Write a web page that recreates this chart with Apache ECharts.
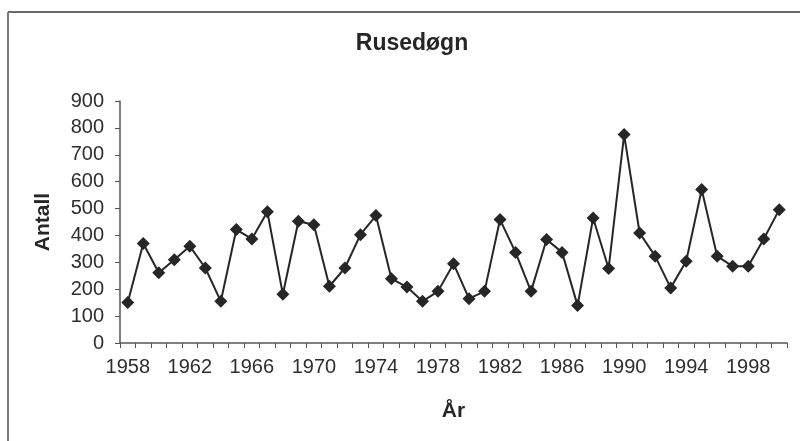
<!DOCTYPE html>
<html>
<head>
<meta charset="utf-8">
<script src="https://cdn.jsdelivr.net/npm/echarts@6/dist/echarts.min.js"></script>
<style>
html,body{margin:0;padding:0;background:#fff;}
#c{width:800px;height:441px;}
</style>
</head>
<body>
<div id="c"></div>
<script>
const years = ['1958','1959','1960','1961','1962','1963','1964','1965','1966','1967','1968','1969','1970','1971','1972','1973','1974','1975','1976','1977','1978','1979','1980','1981','1982','1983','1984','1985','1986','1987','1988','1989','1990','1991','1992','1993','1994','1995','1996','1997','1998','1999','2000'];
const rusedogn = [151,370,261,310,360,279,155,422,387,488,181,453,440,211,279,403,474,239,208,155,192,295,165,192,459,337,192,385,337,139,465,277,775,409,323,205,304,571,323,285,285,387,496];
const yTicks = {min:0, max:900, interval:100};
const titleText = 'Rusedøgn';
const xName = 'År';
const yName = 'Antall';

const chart = echarts.init(document.getElementById('c'));
chart.setOption({
  backgroundColor:'#fff',
  animation:false,
  graphic:[
    {type:'line', shape:{x1:8,y1:12,x2:800,y2:12}, style:{stroke:'#6a6a6a', lineWidth:2}},
    {type:'line', shape:{x1:8,y1:12,x2:8,y2:441}, style:{stroke:'#7a7a7a', lineWidth:2}}
  ],
  title:{
    text:titleText, left:407, top:27, textAlign:'center',
    textStyle:{fontFamily:'Liberation Sans, Arial', fontWeight:'bold', fontSize:23, color:'#262626'}
  },
  grid:{left:120, right:13, top:101, bottom:98},
  xAxis:{
    type:'category', data:years, boundaryGap:true,
    name:xName, nameLocation:'middle', nameGap:58,
    nameTextStyle:{fontFamily:'Liberation Sans, Arial', fontWeight:'bold', fontSize:21, color:'#262626'},
    axisLine:{lineStyle:{color:'#555', width:1.5}},
    axisTick:{show:true, interval:0, length:5, lineStyle:{color:'#555'}},
    axisLabel:{interval:3, margin:14, fontFamily:'Liberation Sans, Arial', fontSize:20, color:'#2e2e2e'},
    splitLine:{show:false}
  },
  yAxis:{
    type:'value', min:yTicks.min, max:yTicks.max, interval:yTicks.interval,
    name:yName, nameLocation:'middle', nameGap:66, nameRotate:90,
    nameTextStyle:{fontFamily:'Liberation Sans, Arial', fontWeight:'bold', fontSize:21, color:'#262626'},
    axisLine:{show:true, lineStyle:{color:'#555', width:1.5}},
    axisTick:{show:true, length:5, lineStyle:{color:'#555'}},
    axisLabel:{margin:16, fontFamily:'Liberation Sans, Arial', fontSize:20, color:'#2e2e2e'},
    splitLine:{show:false}
  },
  series:[{
    type:'line', data:rusedogn,
    symbol:'diamond', symbolSize:13, showAllSymbol:true,
    lineStyle:{color:'#262626', width:2},
    itemStyle:{color:'#262626'}
  }]
});
</script>
</body>
</html>
